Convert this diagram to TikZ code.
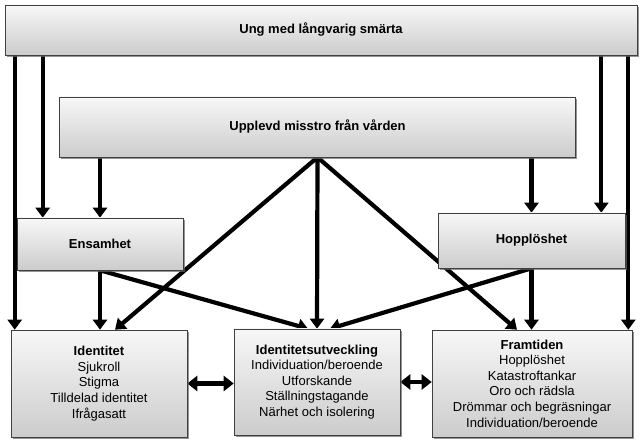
\documentclass[tikz,border=0pt]{standalone}
\usepackage{fontspec}
\setmainfont{Liberation Sans}
\usetikzlibrary{arrows.meta,shadows,positioning}
\pgfdeclarelayer{background}
\pgfsetlayers{background,main}

\tikzset{
  kat/.style={draw=black!75, line width=0.6pt, top color=gray!6, bottom color=gray!40,
    drop shadow={shadow xshift=1.6pt, shadow yshift=-1.6pt, fill=black!60, opacity=0.7},
    inner sep=0pt, align=center, font=\fontsize{13}{15.6}\selectfont\bfseries},
  tema/.style={kat, font=\fontsize{13}{15.6}\selectfont},
  pil/.style={line width=4.2pt, -{Triangle[length=10pt,width=14pt]}},
  dubbelpil/.style={line width=4.2pt, {Triangle[length=10pt,width=15pt]}-{Triangle[length=10pt,width=15pt]}},
}

\begin{document}
\begin{tikzpicture}[x=1pt,y=-1pt]
			\useasboundingbox (0,0) rectangle (642,443);
			% Categories
			\node[kat, minimum width=632pt, minimum height=50pt] (ung) at (321,30) {Ung med långvarig smärta};
			\node[kat, minimum width=516pt, minimum height=60pt] (misstro) at (317.5,127) {Upplevd misstro från vården};
			\node[kat, minimum width=166pt, minimum height=52pt] (ensamhet) at (100,244) {Ensamhet};
			\node[kat, minimum width=187pt, minimum height=55pt] (hopplos) at (531.5,240.5) {Hopplöshet};
			% Themes at the bottom
			\node[tema, minimum width=176pt, minimum height=107pt] (identitet) at (99,383.5) {
				\textbf{Identitet}\\Sjukroll\\Stigma\\Tilldelad identitet\\Ifrågasatt};
			\node[tema, minimum width=166pt, minimum height=106pt] (utveckling) at (317,382) {
				\textbf{Identitetsutveckling}\\Individuation/beroende\\Utforskande\\Ställningstagande\\Närhet och isolering};
			\node[tema, minimum width=200pt, minimum height=107pt] (framtiden) at (532,383.5) {
				\textbf{Framtiden}\\Hopplöshet\\Katastroftankar\\Oro och rädsla\\Drömmar och begräsningar\\Individuation/beroende};
			% Ends of the arrows on the boxes
			\coordinate (id-a) at ([xshift=4pt]identitet.north west);
			\coordinate (id-b) at ([xshift=16pt]identitet.north);
			\coordinate (ut-a) at ([xshift=-9pt]utveckling.north);
			\coordinate (ut-b) at ([xshift=13pt]utveckling.north);
			\coordinate (fr-a) at ([xshift=-15pt]framtiden.north);
			\coordinate (fr-b) at ([xshift=-4pt]framtiden.north east);
			\coordinate (en-a) at ([xshift=26pt]ensamhet.north west);
			\coordinate (ho-a) at ([xshift=-24pt]hopplos.north east);
			\begin{pgfonlayer}{background}
				% Draw the arrows from the top box
				\foreach \m in {id-a,en-a,ho-a,fr-b}{
					\draw[pil] (\m |- ung.south) -- (\m);
				}
				% Arrows from misstro
				\draw[pil] (ensamhet.north |- misstro.south) -- (ensamhet.north);
				\draw[pil] (hopplos.north |- misstro.south) -- (hopplos.north);
				\foreach \m in {id-b,utveckling.north,fr-a}{
					\draw[pil] (misstro.south) -- (\m);
				}
				% Arrows from ensamhet and hopplöshet
				\draw[pil] (ensamhet.south) -- (ensamhet.south |- identitet.north);
				\draw[pil] (ensamhet.south) -- (ut-a);
				\draw[pil] (hopplos.south) -- (hopplos.south |- framtiden.north);
				\draw[pil] (hopplos.south) -- (ut-b);
				% Between the themes
				\draw[dubbelpil] (identitet.east) -- (identitet.east -| utveckling.west);
				\draw[dubbelpil] (utveckling.east) -- (utveckling.east -| framtiden.west);
			\end{pgfonlayer}
		\end{tikzpicture}
\end{document}
